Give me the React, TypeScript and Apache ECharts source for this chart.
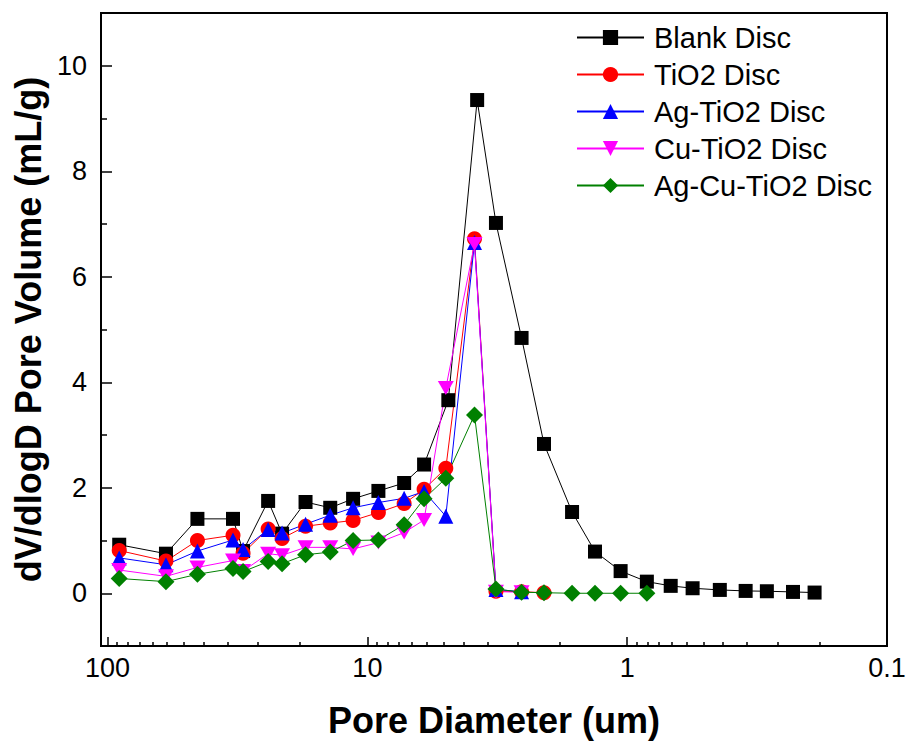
import React, { useEffect, useRef } from "react";
import * as echarts from "echarts";

// Pore diameters (um)
const blankDiameters = [90.2, 59.6, 45.1, 32.9, 30.1, 24.1, 21.3, 17.3, 13.9, 11.35, 9.07, 7.22, 6.05, 4.88, 3.78, 3.2, 2.55, 2.09, 1.63, 1.33, 1.06, 0.84, 0.68, 0.56, 0.44, 0.35, 0.29, 0.23, 0.19];
const coatedDiameters = [90.2, 59.6, 45.1, 32.9, 30.1, 24.1, 21.3, 17.3, 13.9, 11.35, 9.07, 7.22, 6.05, 4.99, 3.87, 3.2, 2.55, 2.09, 1.63, 1.33, 1.06, 0.84];

// dV/dlogD values (mL/g)
const blankDisc = [0.92, 0.75, 1.41, 1.41, 0.8, 1.75, 1.13, 1.73, 1.62, 1.79, 1.94, 2.09, 2.44, 3.66, 9.35, 7.02, 4.84, 2.83, 1.54, 0.79, 0.42, 0.22, 0.14, 0.095, 0.063, 0.044, 0.038, 0.025, 0.013];
const tio2Disc = [0.81, 0.61, 1.0, 1.1, 0.76, 1.22, 1.04, 1.27, 1.33, 1.38, 1.53, 1.7, 1.97, 2.37, 6.72, 0.04, 0.03, 0.01];
const agTio2Disc = [0.67, 0.54, 0.8, 1.01, 0.83, 1.21, 1.14, 1.31, 1.48, 1.62, 1.72, 1.8, 1.93, 1.46, 6.65, 0.07, 0.03];
const cuTio2Disc = [0.44, 0.32, 0.49, 0.62, 0.42, 0.75, 0.72, 0.87, 0.87, 0.84, 0.96, 1.15, 1.39, 3.89, 6.62, 0.03, 0.02];
const agCuTio2Disc = [0.28, 0.22, 0.36, 0.47, 0.41, 0.6, 0.56, 0.73, 0.78, 1.0, 1.01, 1.3, 1.79, 2.18, 3.38, 0.08, 0.02, 0.01, 0.0, 0.0, 0.0, 0.0];

const seriesNames = ["Blank Disc", "TiO2 Disc", "Ag-TiO2 Disc", "Cu-TiO2 Disc", "Ag-Cu-TiO2 Disc"];
const xTickLabels = ["100", "10", "1", "0.1"];
const yTickLabels = ["0", "2", "4", "6", "8", "10"];

const FONT = "'Liberation Sans', Arial, Helvetica, sans-serif";
const downTriangle = "path://M0,0 L10,0 L5,9 Z";

function pairs(xs: number[], ys: number[]) {
  return ys.map((y, i) => [xs[i], y]);
}

export default function App() {
  const ref = useRef<HTMLDivElement>(null);
  useEffect(() => {
    if (!ref.current) return;
    const chart = echarts.init(ref.current, null, { renderer: "svg" });
    const mk = (name: string, xs: number[], ys: number[], color: string, symbol: string, size: number | number[]) => ({
      name,
      type: "line",
      data: pairs(xs, ys),
      symbol,
      symbolSize: size,
      showAllSymbol: true,
      lineStyle: { color, width: 1 },
      itemStyle: { color, borderWidth: 0 },
      xAxisIndex: 0,
      yAxisIndex: 0,
      z: 3,
    });
    chart.setOption({
      animation: false,
      backgroundColor: "#fff",
      textStyle: { fontFamily: FONT },
      grid: {
        left: 101,
        right: 22,
        top: 13,
        bottom: 102,
        show: true,
        borderColor: "#000",
        borderWidth: 2,
        backgroundColor: "transparent",
      },
      legend: {
        orient: "vertical",
        left: 571,
        top: 18,
        itemWidth: 67,
        itemHeight: 19,
        itemGap: 8,
        data: seriesNames,
        textStyle: { fontSize: 29, color: "#000", fontFamily: FONT, padding: [0, 0, 0, 5] },
      },
      xAxis: {
        type: "log",
        logBase: 10,
        min: 0.1,
        max: 106,
        inverse: true,
        axisLine: { show: true, onZero: false, lineStyle: { color: "#000", width: 2 } },
        axisTick: { show: true, inside: true, length: 9, lineStyle: { color: "#000", width: 1.5 } },
        minorTick: { show: true, splitNumber: 11, length: 4, lineStyle: { color: "#000", width: 1.5 } },
        splitLine: { show: false },
        minorSplitLine: { show: false },
        axisLabel: {
          fontSize: 27,
          color: "#000",
          margin: 8,
          fontFamily: FONT,
          formatter: (v: number) => {
            const s = String(Number(v.toPrecision(6)));
            return xTickLabels.indexOf(s) >= 0 ? s : "";
          },
        },
        name: "Pore Diameter (um)",
        nameLocation: "middle",
        nameGap: 56,
        nameTextStyle: { fontSize: 36, fontWeight: "bold", color: "#000", fontFamily: FONT },
      },
      yAxis: [
        {
          type: "value",
          min: -1,
          max: 11,
          interval: 1,
          axisLine: { show: true, onZero: false, lineStyle: { color: "#000", width: 2 } },
          axisTick: { show: false },
          splitLine: { show: false },
          axisLabel: {
            fontSize: 27,
            color: "#000",
            margin: 14,
            fontFamily: FONT,
            formatter: (v: number) => {
              const s = String(Math.round(v));
              return yTickLabels.indexOf(s) >= 0 ? s : "";
            },
          },
          name: "dV/dlogD Pore Volume (mL/g)",
          nameLocation: "middle",
          nameGap: 43,
          nameTextStyle: { fontSize: 36, fontWeight: "bold", color: "#000", fontFamily: FONT },
        },
        {
          // odd values get short ticks; minor ticks fall on the even values (long)
          type: "value",
          min: -1,
          max: 11,
          interval: 2,
          position: "left",
          axisLine: { show: false, onZero: false },
          axisTick: { show: true, inside: true, length: 6, lineStyle: { color: "#000", width: 1.5 } },
          minorTick: { show: true, splitNumber: 2, length: 11, lineStyle: { color: "#000", width: 1.5 } },
          splitLine: { show: false },
          minorSplitLine: { show: false },
          axisLabel: { show: false },
        },
      ],
      series: [
        mk(seriesNames[0], blankDiameters, blankDisc, "#000000", "rect", 14),
        mk(seriesNames[1], coatedDiameters, tio2Disc, "#ff0000", "circle", 15),
        mk(seriesNames[2], coatedDiameters, agTio2Disc, "#0000ff", "triangle", 15),
        mk(seriesNames[3], coatedDiameters, cuTio2Disc, "#ff00ff", downTriangle, [16, 14]),
        mk(seriesNames[4], coatedDiameters, agCuTio2Disc, "#008000", "diamond", 17),
      ],
    });
    return () => chart.dispose();
  }, []);
  return (
    <div
      ref={ref}
      style={{ position: "fixed", left: 0, top: 0, width: 909, height: 748, background: "#fff" }}
    />
  );
}
